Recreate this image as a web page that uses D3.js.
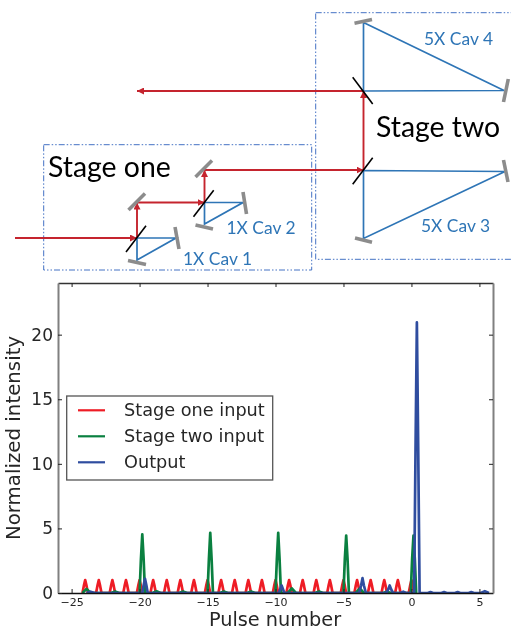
<!DOCTYPE html>
<html>
<head>
<meta charset="utf-8">
<script src="https://cdn.jsdelivr.net/npm/d3@7"></script>
<style>
html, body { margin: 0; padding: 0; background: #fff; }
svg { display: block; filter: blur(0.35px); }
</style>
</head>
<body>
<script>
// pulse traces
var redX = [
  -24.2,-24.1,-24,-23.9,-23.8, -23.2,-23.1,-23,-22.9,-22.8, -22.2,-22.1,-22,-21.9,-21.8,
  -21.2,-21.1,-21,-20.9,-20.8, -20.2,-20.1,-20,-19.9,-19.8, -19.2,-19.1,-19,-18.9,-18.8,
  -18.2,-18.1,-18,-17.9,-17.8, -17.2,-17.1,-17,-16.9,-16.8, -16.2,-16.1,-16,-15.9,-15.8,
  -15.2,-15.1,-15,-14.9,-14.8, -14.2,-14.1,-14,-13.9,-13.8, -13.2,-13.1,-13,-12.9,-12.8,
  -12.2,-12.1,-12,-11.9,-11.8, -11.2,-11.1,-11,-10.9,-10.8, -10.2,-10.1,-10,-9.9,-9.8,
  -9.2,-9.1,-9,-8.9,-8.8, -8.2,-8.1,-8,-7.9,-7.8, -7.2,-7.1,-7,-6.9,-6.8,
  -6.2,-6.1,-6,-5.9,-5.8, -5.2,-5.1,-5,-4.9,-4.8, -4.2,-4.1,-4,-3.9,-3.8,
  -3.2,-3.1,-3,-2.9,-2.8, -2.2,-2.1,-2,-1.9,-1.8, -1.2,-1.1,-1,-0.9,-0.8,
  -0.2,-0.1,0,0.1,0.2
];
var redY = [
  0,.55,1,.55,0, 0,.55,1,.55,0, 0,.55,1,.55,0,
  0,.55,1,.55,0, 0,.55,1,.55,0, 0,.55,1,.55,0,
  0,.55,1,.55,0, 0,.55,1,.55,0, 0,.55,1,.55,0,
  0,.55,1,.55,0, 0,.55,1,.55,0, 0,.55,1,.55,0,
  0,.55,1,.55,0, 0,.55,1,.55,0, 0,.55,1,.55,0,
  0,.55,1,.55,0, 0,.55,1,.55,0, 0,.55,1,.55,0,
  0,.55,1,.55,0, 0,.55,1,.55,0, 0,.55,1,.55,0,
  0,.55,1,.55,0, 0,.55,1,.55,0, 0,.55,1,.55,0,
  0,.55,1,.55,0
];
var greenX = [
  -24.2,-23.9,-23.6, -22.1,-21.8,-21.5, -20,-19.9,-19.8,-19.7,-19.6, -19.05,-18.75,-18.45,
  -17.1,-16.8,-16.5, -15,-14.9,-14.8,-14.7,-14.6, -14.1,-13.8,-13.5, -12.1,-11.8,-11.5,
  -10,-9.9,-9.8,-9.7,-9.6, -9.1,-8.8,-8.5, -7.1,-6.8,-6.5, -5,-4.9,-4.8,-4.7,-4.6,
  -4.1,-3.8,-3.5, -2.1,-1.8,-1.5, -0.05,0.05,0.15,0.25,0.35
];
var greenY = [
  0,.32,0, 0,.12,0, 0,2.6,4.55,2.6,0, 0,.13,0,
  0,.12,0, 0,2.6,4.65,2.6,0, 0,.12,0, 0,.12,0,
  0,2.6,4.65,2.6,0, 0,.36,0, 0,.12,0, 0,2.6,4.45,2.6,0,
  0,.36,0, 0,.1,0, 0,2.6,4.45,2.6,0
];
var blueX = [
  -23.9,-23.6,-23.3, -19.8,-19.7,-19.6,-19.5,-19.4, -9.75,-9.65,-9.55,-9.45,-9.35,
  -3.85,-3.7,-3.6,-3.5,-3.35, -1.85,-1.7,-1.6,-1.5,-1.35, -0.8,-0.6,-0.4,
  0.2,0.3,0.4,0.5,0.6, 1.2,1.4,1.6, 2.2,2.4,2.6, 3.2,3.4,3.6, 4.2,4.4,4.6, 5.1,5.4,5.7
];
var blueY = [
  0,.1,0, 0,.6,1.1,.6,0, 0,.3,.58,.3,0,
  0,.6,1.15,.6,0, 0,.3,.58,.3,0, 0,.1,0,
  0,11,20.95,11,0, 0,.07,0, 0,.07,0, 0,.07,0, 0,.07,0, 0,.14,0
];
var xTicks = [-25, -20, -15, -10, -5, 0, 5];
var yTicks = [0, 5, 10, 15, 20];
var seriesNames = ["Stage one input", "Stage two input", "Output"];
var seriesColors = ["#ee1c25", "#0a8040", "#2f4d9f"];

// optical layout of the two stages, in diagram units
var mirrors = [
  [175,227,179,249], [128,260.5,146,264.5], [128.5,210,145,193.5],
  [243,192,246.5,214], [195.5,225,213,229], [195.5,177,212,160.5],
  [503.5,160,508,182], [355,238,372,242.3], [354.5,23.3,372,19.5], [503.5,102,508.3,79]
];
var splitters = [
  [126,252,146,225.7], [193.5,216.7,213.7,190.3], [352.7,184.3,372.7,157.7], [352.7,77.3,372.7,104]
];
var cavities = [
  [[137,238],[176,238],[137,260]],
  [[204.5,202.5],[243,202.5],[204.5,224]],
  [[363.5,170.5],[505,171.5],[363.5,238.5]],
  [[363.5,22.5],[504,90.5],[363.5,91]]
];
var beams = [
  [[15,238],[137,238]],
  [[137,238],[137,202.5]],
  [[137,202.5],[204.5,202.5]],
  [[204.5,202.5],[204.5,170]],
  [[204.5,170],[363.5,170]],
  [[363.5,170],[363.5,91]],
  [[363.5,91],[137,91]]
];
var stageBoxes = [
  [43.7,144.7,311.7,270],
  [315.7,12.7,530,259.3]
];
var stageLabels = [["Stage one",48,176.5], ["Stage two",376,136.5]];
var cavLabels = [["1X Cav 1",183,265], ["1X Cav 2",226.5,234], ["5X Cav 3",421,231.5], ["5X Cav 4",424,44.5]];

var width = 511, height = 631;
var svg = d3.select("body").append("svg").attr("width", width).attr("height", height);

// --- schematic ---
var defs = svg.append("defs");
defs.append("marker").attr("id", "head")
    .attr("viewBox", "0 0 8 8").attr("refX", 8).attr("refY", 4)
    .attr("markerUnits", "userSpaceOnUse").attr("markerWidth", 7).attr("markerHeight", 7)
    .attr("orient", "auto")
  .append("path").attr("d", "M0,0L8,4L0,8Z").attr("fill", "#c5242e");

var schem = svg.append("g");
var line = d3.line();

schem.selectAll(".stage").data(stageBoxes).enter().append("rect")
    .attr("x", function(d) { return d[0]; })
    .attr("y", function(d) { return d[1]; })
    .attr("width", function(d) { return d[2] - d[0]; })
    .attr("height", function(d) { return d[3] - d[1]; })
    .attr("fill", "none")
    .attr("stroke", "#4472c4")
    .attr("stroke-width", 1)
    .attr("stroke-dasharray", "6 2 1.5 2 1.5 2");

schem.selectAll(".cav").data(cavities).enter().append("path")
    .attr("d", function(d) { return line(d) + "Z"; })
    .attr("fill", "none")
    .attr("stroke", "#2e75b6")
    .attr("stroke-width", 1.7);

schem.selectAll(".beam").data(beams).enter().append("path")
    .attr("d", line)
    .attr("fill", "none")
    .attr("stroke", "#c5242e")
    .attr("stroke-width", 1.9)
    .attr("marker-end", "url(#head)");

schem.selectAll(".mirror").data(mirrors).enter().append("line")
    .attr("x1", function(d) { return d[0]; })
    .attr("y1", function(d) { return d[1]; })
    .attr("x2", function(d) { return d[2]; })
    .attr("y2", function(d) { return d[3]; })
    .attr("stroke", "#8c8c8c")
    .attr("stroke-width", 3.6);

schem.selectAll(".bs").data(splitters).enter().append("line")
    .attr("x1", function(d) { return d[0]; })
    .attr("y1", function(d) { return d[1]; })
    .attr("x2", function(d) { return d[2]; })
    .attr("y2", function(d) { return d[3]; })
    .attr("stroke", "#000")
    .attr("stroke-width", 1.6);

schem.selectAll(".stagelabel").data(stageLabels).enter().append("text")
    .attr("x", function(d) { return d[1]; })
    .attr("y", function(d) { return d[2]; })
    .attr("font-family", "Lato, sans-serif")
    .attr("font-size", 28.4)
    .attr("fill", "#000")
    .text(function(d) { return d[0]; });

schem.selectAll(".cavlabel").data(cavLabels).enter().append("text")
    .attr("x", function(d) { return d[1]; })
    .attr("y", function(d) { return d[2]; })
    .attr("font-family", "Lato, sans-serif")
    .attr("font-size", 17.4)
    .attr("fill", "#2e75b6")
    .text(function(d) { return d[0]; });

// --- plot ---
var margin = { left: 58, right: 493, top: 283, bottom: 593 };
var x = d3.scaleLinear().domain([-26, 6]).range([margin.left, margin.right]);
var y = d3.scaleLinear().domain([0, 24]).range([margin.bottom, margin.top]);
var fontFamily = "'DejaVu Sans', sans-serif";
var textColor = "#262626";

defs.append("clipPath").attr("id", "plot-clip")
  .append("rect")
    .attr("x", margin.left).attr("y", margin.top)
    .attr("width", margin.right - margin.left)
    .attr("height", margin.bottom - margin.top);

var traces = [
  d3.zip(redX, redY),
  d3.zip(greenX, greenY),
  d3.zip(blueX, blueY)
];

var curve = d3.line()
    .x(function(d) { return x(d[0]); })
    .y(function(d) { return y(d[1]); });

svg.append("g").attr("clip-path", "url(#plot-clip)")
  .selectAll("path").data(traces).enter().append("path")
    .attr("d", curve)
    .attr("fill", "none")
    .attr("stroke", function(d, i) { return seriesColors[i]; })
    .attr("stroke-width", 2.7)
    .attr("stroke-linejoin", "round");

function minusFormat(d) { return String(d).replace("-", "\u2212"); }

var bottomAxis = svg.append("g").attr("transform", "translate(0," + margin.bottom + ")")
    .call(d3.axisBottom(x).tickValues(xTicks).tickSizeInner(-4).tickSizeOuter(0).tickPadding(5).tickFormat(minusFormat));
var topAxis = svg.append("g").attr("transform", "translate(0," + margin.top + ")")
    .call(d3.axisTop(x).tickValues(xTicks).tickSizeInner(-4).tickSizeOuter(0).tickFormat(""));
var leftAxis = svg.append("g").attr("transform", "translate(" + margin.left + ",0)")
    .call(d3.axisLeft(y).tickValues(yTicks).tickSizeInner(-4).tickSizeOuter(0).tickPadding(5).tickFormat(minusFormat));
var rightAxis = svg.append("g").attr("transform", "translate(" + margin.right + ",0)")
    .call(d3.axisRight(y).tickValues(yTicks).tickSizeInner(-4).tickSizeOuter(0).tickFormat(""));

bottomAxis.selectAll("text").attr("font-size", 11).attr("font-family", fontFamily).attr("fill", textColor);
leftAxis.selectAll("text").attr("font-size", 17).attr("font-family", fontFamily).attr("fill", textColor);
[bottomAxis, topAxis, leftAxis, rightAxis].forEach(function(a) {
    a.selectAll(".tick line").attr("stroke", "#222").attr("stroke-width", 1);
});
bottomAxis.select(".domain").attr("stroke", "#111").attr("stroke-width", 1.4);
topAxis.select(".domain").attr("stroke", "#333").attr("stroke-width", 1.4);
leftAxis.select(".domain").attr("stroke", "#808080").attr("stroke-width", 2);
rightAxis.select(".domain").attr("stroke", "#808080").attr("stroke-width", 2);

svg.append("text")
    .attr("x", 275).attr("y", 626.4)
    .attr("text-anchor", "middle")
    .attr("font-family", fontFamily).attr("font-size", 19.3).attr("fill", textColor)
    .text("Pulse number");

svg.append("text")
    .attr("transform", "translate(20,438) rotate(-90)")
    .attr("text-anchor", "middle")
    .attr("font-family", fontFamily).attr("font-size", 19.8).attr("fill", textColor)
    .text("Normalized intensity");

// --- legend ---
var legend = svg.append("g");
legend.append("rect")
    .attr("x", 66.7).attr("y", 396).attr("width", 206).attr("height", 84)
    .attr("fill", "#fff").attr("stroke", "#555").attr("stroke-width", 1.3);

var rows = legend.selectAll(".row").data(seriesNames).enter().append("g")
    .attr("transform", function(d, i) { return "translate(0," + (410.3 + i * 26) + ")"; });

rows.append("line")
    .attr("x1", 78).attr("x2", 105)
    .attr("stroke", function(d, i) { return seriesColors[i]; })
    .attr("stroke-width", 2.2);

rows.append("text")
    .attr("x", 124).attr("y", 6)
    .attr("font-family", fontFamily).attr("font-size", 17.7).attr("fill", textColor)
    .text(function(d) { return d; });
</script>
</body>
</html>
